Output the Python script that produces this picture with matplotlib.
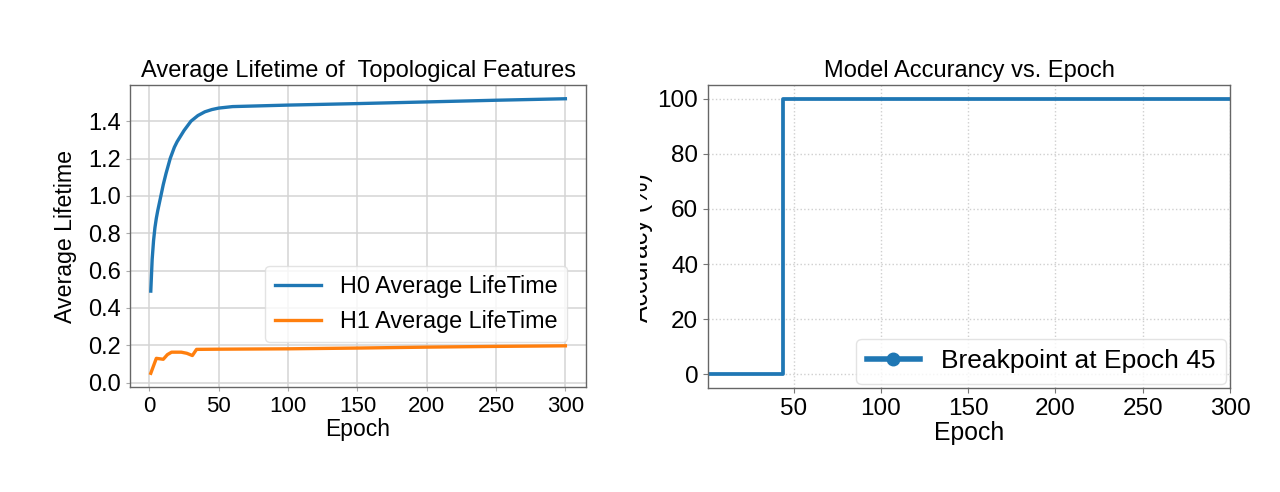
import matplotlib.pyplot as plt
from matplotlib.lines import Line2D
from matplotlib.transforms import Bbox, TransformedBbox

# H0 / H1 average lifetime per epoch
h0_epochs = [1, 2, 3, 4, 5, 6, 8, 10, 12, 15, 18, 20, 25, 30, 35, 40, 45, 50,
             60, 80, 100, 150, 200, 250, 300]
h0_life = [0.49, 0.66, 0.76, 0.83, 0.88, 0.92, 0.99, 1.06, 1.12, 1.20, 1.26,
           1.29, 1.35, 1.40, 1.43, 1.45, 1.462, 1.47, 1.478, 1.482, 1.486,
           1.494, 1.503, 1.512, 1.52]
h1_epochs = [1, 5, 7, 10, 13, 16, 23, 27, 31, 34, 50, 100, 150, 200, 250, 300]
h1_life = [0.05, 0.13, 0.128, 0.125, 0.15, 0.163, 0.163, 0.157, 0.145, 0.178,
           0.179, 0.181, 0.185, 0.19, 0.194, 0.197]

# accuracy steps: 0 % until the breakpoint, then 100 %
step_epochs = [1, 44, 300]
step_acc = [0, 100, 100]

blue = '#1f77b4'
orange = '#ff7f0e'

plt.rcParams['font.family'] = ['Liberation Sans', 'DejaVu Sans']

fig = plt.figure(figsize=(12.8, 4.92), dpi=100)
ax1 = fig.add_axes([0.1016, 0.2134, 0.3563, 0.6138])
ax2 = fig.add_axes([0.5531, 0.2114, 0.4078, 0.6159])

# left panel
ax1.plot(h0_epochs, h0_life, color=blue, lw=2.4, label='H0 Average LifeTime')
ax1.plot(h1_epochs, h1_life, color=orange, lw=2.4, label='H1 Average LifeTime')
ax1.grid(True, color='#d4d4d4', lw=1.1)
ax1.set_axisbelow(True)
ax1.set_xticks([0, 50, 100, 150, 200, 250, 300])
ax1.set_yticks([0.0, 0.2, 0.4, 0.6, 0.8, 1.0, 1.2, 1.4])
ax1.tick_params(length=3, color='#aaaaaa')
ax1.tick_params(axis='x', labelsize=16)
ax1.tick_params(axis='y', labelsize=17)
ax1.set_title('Average Lifetime of  Topological Features', fontsize=17)
ax1.set_xlabel('Epoch', fontsize=16.5, labelpad=1)
ax1.set_ylabel('Average Lifetime', fontsize=16.7)
ax1.yaxis.set_label_coords(-0.116, 0.5)
for s in ax1.spines.values():
    s.set_color('#666666')
    s.set_linewidth(1.0)
leg1 = ax1.legend(fontsize=16.8, loc='lower right', bbox_to_anchor=(0.958, 0.149),
                  borderaxespad=0, handlelength=2.0, edgecolor='#dddddd')

# right panel
ax2.plot(step_epochs, step_acc, drawstyle='steps-post', color=blue, lw=2.7)
ax2.set_xlim(1, 300)
ax2.grid(True, color='#cfcfcf', ls=':', lw=1.0)
ax2.set_axisbelow(True)
ax2.set_yticks([0, 20, 40, 60, 80, 100])
ax2.tick_params(labelsize=17.5, length=3.5, color='#777777')
ax2.set_title('Model Accurancy vs. Epoch', fontsize=17)
ax2.set_xlabel('Epoch', fontsize=17.8, labelpad=1)
# y label of the right panel is cut off at the middle of the figure
ylab = fig.text(653 / 1280, 1 - 248 / 492, 'Accuracy (%)', fontsize=18,
                rotation=90, ha='right', va='center')
ylab.set_clip_box(TransformedBbox(Bbox([[0.5, 0], [1, 1]]), fig.transFigure))
ylab.set_clip_on(True)
for s in ax2.spines.values():
    s.set_color('#666666')
    s.set_linewidth(1.0)
handle = Line2D([], [], color=blue, lw=4, marker='o', ms=9)
ax2.legend([handle], ['Breakpoint at Epoch 45'], fontsize=19, loc='lower right',
           borderaxespad=0.15, edgecolor='#dddddd')

fig.savefig('out.png', dpi=100)
